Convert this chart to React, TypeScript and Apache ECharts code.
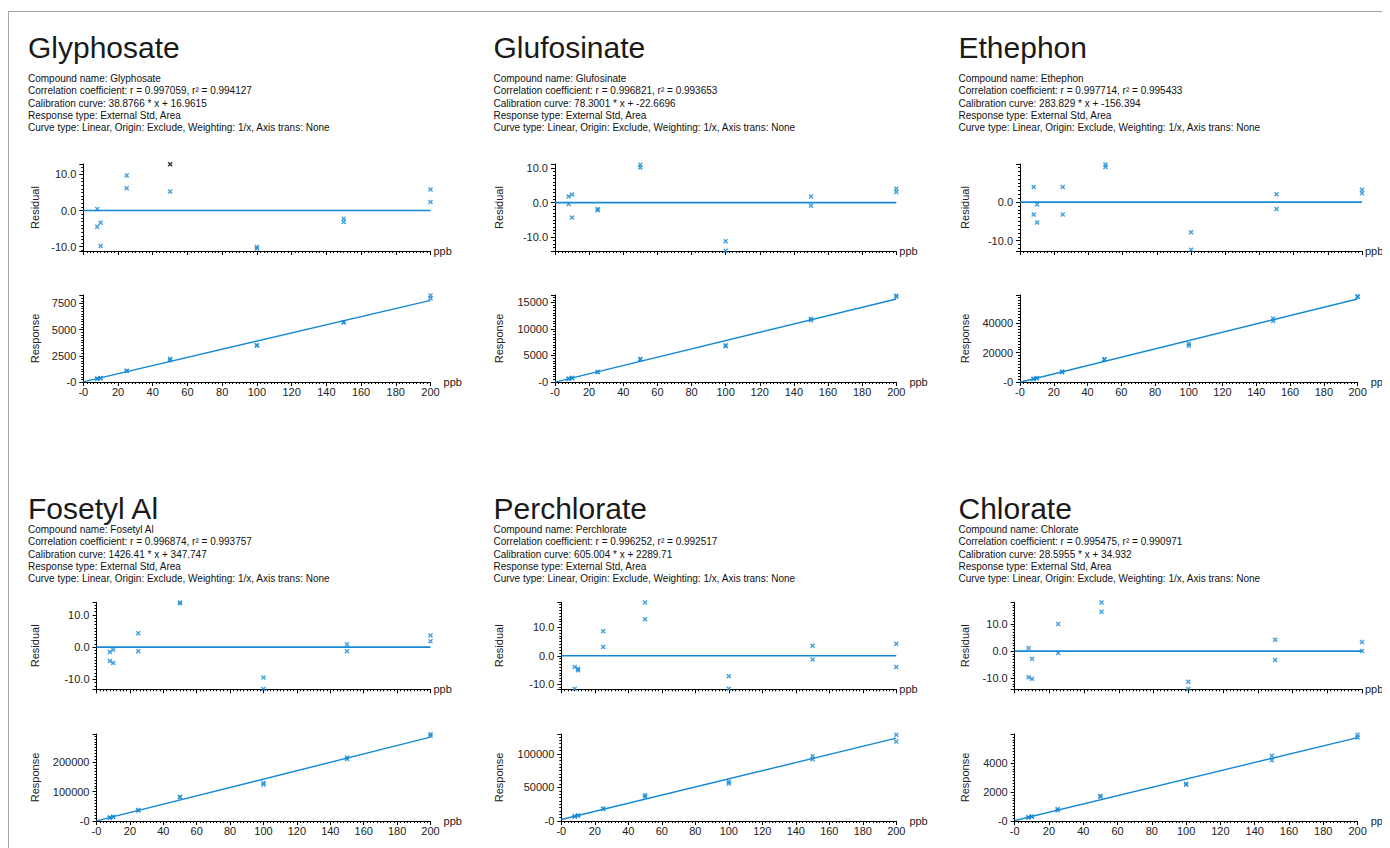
import { useEffect, useRef } from 'react';
import * as echarts from 'echarts';

// ---------------- DATA ----------------
const compounds = ['Glyphosate', 'Glufosinate', 'Ethephon', 'Fosetyl Al', 'Perchlorate', 'Chlorate'];
const corrR = ['0.997059', '0.996821', '0.997714', '0.996874', '0.996252', '0.995475'];
const corrR2 = ['0.994127', '0.993653', '0.995433', '0.993757', '0.992517', '0.990971'];
const calCurves = [
  '38.8766 * x + 16.9615',
  '78.3001 * x + -22.6696',
  '283.829 * x + -156.394',
  '1426.41 * x + 347.747',
  '605.004 * x + 2289.71',
  '28.5955 * x + 34.932',
];
const responseType = 'External Std, Area';
const curveType = 'Linear, Origin: Exclude, Weighting: 1/x, Axis trans: None';

// calibration levels (ppb), two replicates each
const levels = [8, 8, 10, 10, 25, 25, 50, 50, 100, 100, 150, 150, 200, 200];

// residuals (%)
const glyphosateRes = [0.4, -4.5, -3.4, -9.8, 9.7, 6.2, 12.8, 5.3, -10.1, -10.6, -2.25, -3.15, 5.85, 2.4];
const glufosinateRes = [1.8, -0.4, 2.4, -4.3, -1.8, -2.2, 11.0, 10.2, -11.2, -13.9, 1.8, -0.9, 4.0, 3.1];
const ethephonRes = [3.9, -3.2, -0.6, -5.3, 3.9, -3.2, 9.8, 9.1, -7.8, -12.4, 2.05, -1.8, 3.2, 2.3];
const fosetylRes = [-1.5, -4.3, -0.8, -4.9, 4.3, -1.3, 13.8, 13.6, -9.4, -13.0, 0.9, -1.3, 3.6, 1.8];
const perchlorateRes = [-4.0, -11.6, -4.6, -5.1, 8.6, 3.1, 18.7, 12.8, -7.2, -11.6, 3.5, -1.3, 4.2, -4.0];
const chlorateRes = [1.1, -9.6, -2.8, -10.1, 9.9, -0.7, 17.8, 14.4, -11.2, -13.9, 4.2, -3.3, 3.3, 0.0];

// responses (area)
const glyphosateResp = [329, 314, 392, 368, 1083, 1049, 2210, 2064, 3512, 3492, 5717, 5665, 8247, 7979];
const glufosinateResp = [615, 601, 779, 727, 1900, 1892, 4323, 4292, 6930, 6719, 11934, 11617, 16264, 16123];
const ethephonResp = [2203, 2042, 2665, 2532, 7216, 6712, 15426, 15327, 26013, 24707, 43291, 41652, 58426, 57915];
const fosetylResp = [11588, 11268, 14498, 13913, 37541, 35544, 81511, 81368, 129581, 124445, 216235, 211528, 295900, 290765];
const perchlorateResp = [6936, 6569, 8062, 8031, 18716, 17884, 38197, 36412, 58434, 55772, 96216, 91860, 128372, 118450];
const chlorateResp = [266, 242, 313, 292, 821, 745, 1719, 1671, 2574, 2497, 4505, 4183, 5943, 5754];

// fitted calibration line end points at x = 0 and x = 200
const fitX = [0, 200];
const glyphosateFit = [17, 7792];
const glufosinateFit = [-23, 15637];
const ethephonFit = [-156, 56609];
const fosetylFit = [348, 285630];
const perchlorateFit = [2290, 123290];
const chlorateFit = [35, 5754];

// highlighted (black) residual point: compound index, point index
const highlighted = [[0, 6]];

// axis ranges
const residualMin = [-11.2, -14.0, -12.7, -13.1, -11.8, -14.0];
const residualMax = [12.9, 11.2, 9.9, 13.9, 18.8, 17.9];
const responseMax = [8300, 16400, 59300, 296500, 129500, 6000];
const responseStep = [2500, 5000, 20000, 100000, 50000, 2000];
const xTickStep = 20;
const xMax = 200;

const residuals = [glyphosateRes, glufosinateRes, ethephonRes, fosetylRes, perchlorateRes, chlorateRes];
const responses = [glyphosateResp, glufosinateResp, ethephonResp, fosetylResp, perchlorateResp, chlorateResp];
const fits = [glyphosateFit, glufosinateFit, ethephonFit, fosetylFit, perchlorateFit, chlorateFit];

// ---------------- LAYOUT ----------------
const FONT = '"Liberation Sans", Arial, Helvetica, sans-serif';
const BLUE = '#1589d6';
const TEXT = '#222';
const XSYM = 'path://M0,2L2,0L5,3L8,0L10,2L7,5L10,8L8,10L5,7L2,10L0,8L3,5Z';

const plotLeft = [
  [75.3, 547, 1012],
  [88.5, 553.3, 1006.7],
];
const plotRight = [422.5, 888.3, 1354];
const resTop = [156, 594.3];
const respTop = [287, 726];
const plotH = 87;
const nameX = [26, 490.5, 956];
const titleX = [20, 485.5, 950.5];
const titleY = [39, 500];
const textY0 = [70.5, 521.5];
const lineH = 12.3;

function buildOption() {
  const grid: any[] = [];
  const xAxis: any[] = [];
  const yAxis: any[] = [];
  const series: any[] = [];
  const graphic: any[] = [];

  graphic.push({
    type: 'rect',
    shape: { x: 0.5, y: 3.5, width: 1381, height: 900 },
    style: { fill: 'none', stroke: '#a6a6a6', lineWidth: 1 },
    silent: true,
  });

  const axisLineStyle = { lineStyle: { color: '#000', width: 1 } };
  const tick = { show: true, inside: false, length: 4, lineStyle: { color: '#000' } };
  const minor = { show: true, splitNumber: 10, length: 2, lineStyle: { color: '#000' } };
  const labelStyle = { fontFamily: FONT, fontSize: 11, color: TEXT };

  compounds.forEach((name, ci) => {
    const row = Math.floor(ci / 3);
    const col = ci % 3;
    const left = plotLeft[row][col];
    const width = plotRight[col] - left;
    const nameGap = left - nameX[col] - 6;

    // texts
    graphic.push({
      type: 'text',
      x: titleX[col],
      y: titleY[row],
      style: { text: name, font: `30px ${FONT}`, lineHeight: 30, fill: '#1a1a1a', textAlign: 'left', textVerticalAlign: 'middle' },
    });
    const lines = [
      `Compound name: ${name}`,
      `Correlation coefficient: r = ${corrR[ci]}, r² = ${corrR2[ci]}`,
      `Calibration curve: ${calCurves[ci]}`,
      `Response type: ${responseType}`,
      `Curve type: ${curveType}`,
    ];
    lines.forEach((t, li) => {
      graphic.push({
        type: 'text',
        x: titleX[col],
        y: textY0[row] + li * lineH,
        style: { text: t, font: `10px ${FONT}`, lineHeight: 11, fill: '#111', textAlign: 'left', textVerticalAlign: 'middle' },
      });
    });

    // residual grid
    const gRes = grid.length;
    grid.push({ left, top: resTop[row], width, height: plotH });
    xAxis.push({
      type: 'value', gridIndex: gRes, min: 0, max: xMax, interval: xTickStep,
      name: 'ppb', nameLocation: 'end', nameGap: 3,
      nameTextStyle: { ...labelStyle, padding: [5, 0, 0, 0] },
      axisLine: { show: true, onZero: false, ...axisLineStyle },
      axisTick: tick, minorTick: minor,
      axisLabel: { show: false },
      splitLine: { show: false },
    });
    yAxis.push({
      type: 'value', gridIndex: gRes, min: residualMin[ci], max: residualMax[ci], splitNumber: 3,
      name: 'Residual', nameLocation: 'middle', nameRotate: 90, nameGap,
      nameTextStyle: labelStyle,
      axisLine: { show: true, ...axisLineStyle },
      axisTick: tick, minorTick: { ...minor, splitNumber: 10 },
      axisLabel: {
        ...labelStyle, margin: 7, showMinLabel: false, showMaxLabel: false,
        formatter: (v: number) => (Math.abs(v % 10) < 1e-6 ? v.toFixed(1) : ''),
      },
      splitLine: { show: false },
    });
    series.push({
      type: 'line', xAxisIndex: gRes, yAxisIndex: gRes,
      data: fitX.map((x) => [x, 0]), symbol: 'none', silent: true,
      lineStyle: { color: BLUE, width: 1.6 },
    });
    const hiIdx = highlighted.filter((h) => h[0] === ci).map((h) => h[1]);
    series.push({
      type: 'scatter', xAxisIndex: gRes, yAxisIndex: gRes,
      symbol: XSYM, symbolSize: 5,
      itemStyle: { color: BLUE },
      data: levels.map((x, i) => [x, residuals[ci][i]]).filter((_, i) => !hiIdx.includes(i)),
    });
    if (hiIdx.length) {
      series.push({
        type: 'scatter', xAxisIndex: gRes, yAxisIndex: gRes,
        symbol: XSYM, symbolSize: 5, z: 5,
        itemStyle: { color: '#000' },
        data: hiIdx.map((i) => [levels[i], residuals[ci][i]]),
      });
    }

    // response grid
    const gResp = grid.length;
    grid.push({ left, top: respTop[row], width, height: plotH });
    xAxis.push({
      type: 'value', gridIndex: gResp, min: 0, max: xMax, interval: xTickStep,
      name: 'ppb', nameLocation: 'end', nameGap: 3,
      nameTextStyle: { ...labelStyle, padding: [5, 0, 0, 0] },
      axisLine: { show: true, onZero: false, ...axisLineStyle },
      axisTick: tick, minorTick: minor,
      axisLabel: { ...labelStyle, margin: 4, formatter: (v: number) => (v === 0 ? '-0' : String(v)) },
      splitLine: { show: false },
    });
    yAxis.push({
      type: 'value', gridIndex: gResp, min: 0, max: responseMax[ci], interval: responseStep[ci],
      name: 'Response', nameLocation: 'middle', nameRotate: 90, nameGap,
      nameTextStyle: labelStyle,
      axisLine: { show: true, ...axisLineStyle },
      axisTick: tick, minorTick: minor,
      axisLabel: {
        ...labelStyle, margin: 7, showMaxLabel: false,
        formatter: (v: number) => (v === 0 ? '-0' : v % responseStep[ci] === 0 ? String(v) : ''),
      },
      splitLine: { show: false },
    });
    series.push({
      type: 'line', xAxisIndex: gResp, yAxisIndex: gResp,
      data: fitX.map((x, i) => [x, fits[ci][i]]), symbol: 'none', silent: true,
      lineStyle: { color: BLUE, width: 1.4 },
    });
    series.push({
      type: 'scatter', xAxisIndex: gResp, yAxisIndex: gResp,
      symbol: XSYM, symbolSize: 5,
      itemStyle: { color: BLUE },
      data: levels.map((x, i) => [x, responses[ci][i]]),
    });
  });

  return {
    animation: false,
    backgroundColor: '#fff',
    textStyle: { fontFamily: FONT },
    grid, xAxis, yAxis, series, graphic,
  };
}

export default function App() {
  const ref = useRef<HTMLDivElement>(null);
  useEffect(() => {
    if (!ref.current) return;
    const chart = echarts.init(ref.current, undefined, { renderer: 'svg' });
    chart.setOption(buildOption());
    return () => chart.dispose();
  }, []);
  return <div ref={ref} style={{ width: 1382, height: 840 }} />;
}
